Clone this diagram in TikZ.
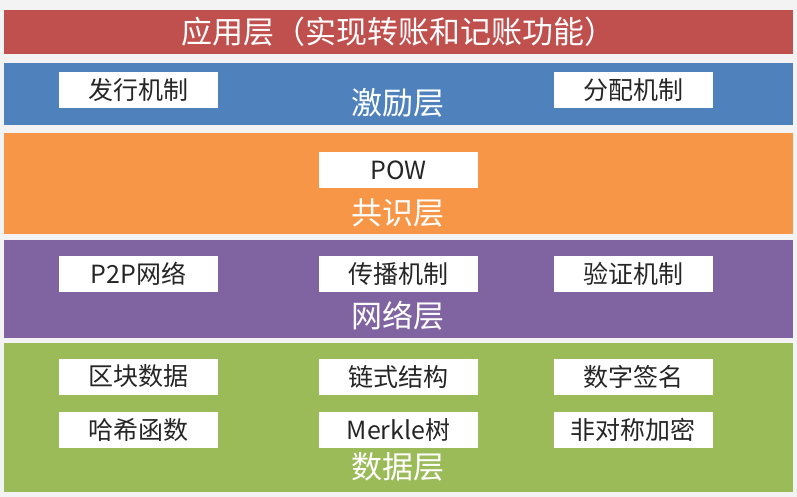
\documentclass[tikz,border=0pt]{standalone}
\usepackage{fontspec}
\setmainfont{Noto Sans CJK SC}
\usetikzlibrary{positioning}
\definecolor{appred}{HTML}{C0504D}
\definecolor{incblue}{HTML}{4F81BD}
\definecolor{conorange}{HTML}{F79646}
\definecolor{netpurple}{HTML}{8064A2}
\definecolor{datagreen}{HTML}{9BBB59}
\definecolor{backgray}{HTML}{F3F3F3}
\tikzset{
    layer/.style = {
        minimum width=789pt,
        inner sep=0pt,
        outer sep=0pt,
        anchor=north west,
        },
    layer name/.style = {
        text = white,
        inner sep=0pt,
        font = \fontsize{31}{33}\selectfont,
        },
    unit/.style = {
        fill = white,
        minimum width=159pt,
        minimum height=36pt,
        inner sep=0pt,
        text = black!85,
        font = \fontsize{25}{27}\selectfont,
        },
}

\begin{document}
\begin{tikzpicture}[x=1pt, y=-1pt, node distance=17pt]
    \fill[backgray] (0,0) rectangle (797,497);

    % layers
    \node [layer, fill=appred, minimum height=44pt, text=white,
           font=\fontsize{31}{33}\selectfont] (app) at (4,10) {应用层（实现转账和记账功能）};
    \node [layer, fill=incblue, minimum height=62pt] (inc) at (4,63) {};
    \node [layer, fill=conorange, minimum height=101pt] (con) at (4,133) {};
    \node [layer, fill=netpurple, minimum height=98pt] (net) at (4,240) {};
    \node [layer, fill=datagreen, minimum height=149pt] (dat) at (4,343) {};

    \node [layer name] (incname) at (398,103) {激励层};
    \node [layer name] (conname) at (398,213) {共识层};
    \node [layer name] (netname) at (398,316) {网络层};
    \node [layer name] (datname) at (398,467) {数据层};

    % incentive
    \node [unit] (issue) at (138.5,90) {发行机制};
    \node [unit] (alloc) at (633,90) {分配机制};

    % consensus
    \node [unit] (pow) at (398.5,170.5) {POW};

    % network
    \node [unit] (p2p) at (138.5,274) {P2P网络};
    \node [unit] (spread) at (398.5,274) {传播机制};
    \node [unit] (verify) at (633,274) {验证机制};

    % data
    \node [unit] (block) at (138.5,376.5) {区块数据};
    \node [unit] (chain) at (398.5,376.5) {链式结构};
    \node [unit] (sign) at (633,376.5) {数字签名};
    \node [unit, below=of block] (hash) {哈希函数};
    \node [unit, below=of chain] (merkle) {Merkle树};
    \node [unit, below=of sign] (asym) {非对称加密};
\end{tikzpicture}
\end{document}
